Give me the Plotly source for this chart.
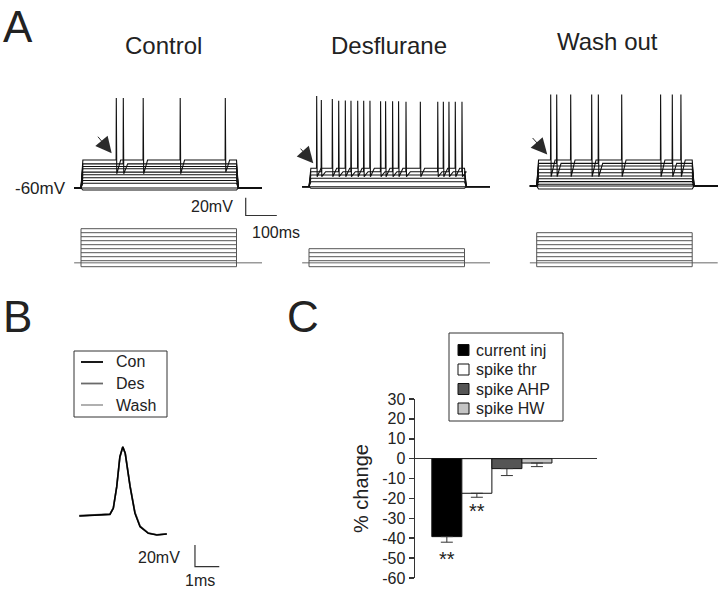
import plotly.graph_objects as go

# ---------------- DATA ----------------
CONDITIONS = ["Control", "Desflurane", "Wash out"]
V_REST = -60.0            # mV
T_START, T_END = -22.0, 582.0   # ms, sweep window
STEP_ON, STEP_OFF = 0.0, 500.0  # ms

# plateau membrane potential of each sweep (mV)
CTRL_LEVELS = [-62.3, -59.2, -54.7, -51.5, -48.5, -45.1, -42.1, -38.3, -35.7, -32.7, -28.4]
DES_LEVELS = [-61.8, -59.2, -54.4, -50.5, -46.8, -43.1, -39.2]
WASH_LEVELS = [-63.4, -60.8, -58.1, -55.1, -51.8, -48.7, -45.0, -41.1, -37.4, -34.4, -30.6]

# spike times (ms), the sweep (counted from the top) they belong to, peaks (mV), AHP troughs (mV)
CTRL_SPK_T = [113.5, 136.0, 200.0, 319.0, 464.0]
CTRL_SPK_SWEEP = [1, 2, 1, 1, 1]
CTRL_SPK_PEAK = [41.7, 41.7, 41.7, 41.7, 41.7]
CTRL_SPK_AHP = [-44.0, -44.0, -44.0, -44.0, -42.0]

DES_SPK_T = [24.7, 39.6, 75.0, 95.5, 116.8, 135.0, 156.6, 175.9, 196.0, 230.2,
             246.3, 268.8, 288.0, 311.9, 358.0, 414.0, 432.0, 450.0, 470.4, 491.9]
DES_SPK_SWEEP = [1, 2, 1, 2, 1, 2, 1, 2, 1, 2, 1, 2, 1, 2, 1, 2, 1, 2, 1, 2]
DES_SPK_PEAK = [42.4, 38.0, 39.0, 37.0, 37.5, 37.0, 37.0, 37.0, 37.0, 36.5,
                36.5, 36.5, 36.5, 36.0, 36.0, 36.0, 36.0, 36.0, 36.0, 36.0]
DES_SPK_AHP = [-48.7] * 20

WASH_SPK_T = [45.0, 64.3, 109.3, 176.8, 198.2, 273.3, 398.4, 436.0, 463.7]
WASH_SPK_SWEEP = [1, 2, 1, 1, 2, 1, 1, 2, 1]
WASH_SPK_PEAK = [43.4, 43.4, 43.4, 43.4, 43.4, 43.4, 43.4, 43.4, 43.4]
WASH_SPK_AHP = [-49.5] * 9

# injected current steps (pA)
CTRL_STEPS = [-20, 10, 30, 50, 70, 90, 110, 130, 150, 170]
DES_STEPS = [-20, 10, 30, 50, 70]
WASH_STEPS = [-20, 10, 30, 50, 70, 90, 110, 130, 150]

# scale bars
SCALE_A_MV, SCALE_A_MS = 20, 100
SCALE_B_MV, SCALE_B_MS = 20, 1

# panel B: single action potential (ms, mV)
SPIKE_T = [0.0, 1.26, 1.40, 1.54, 1.67, 1.79, 1.89, 2.09, 2.29, 2.50, 2.84, 3.19, 3.60]
SPIKE_CON = [-50.9, -49.4, -43.8, -23.9, 3.7, 12.9, 6.9, -23.9, -48.4, -60.8, -66.9, -68.4, -67.5]
SPIKE_DES = [-50.6, -49.2, -43.5, -24.2, 3.2, 12.6, 6.8, -23.2, -47.6, -60.2, -66.6, -68.2, -67.4]
SPIKE_WASH = [-50.8, -49.3, -43.7, -24.0, 3.4, 12.7, 6.9, -23.5, -48.0, -60.5, -66.7, -68.3, -67.4]
SPIKE_NAMES = ["Con", "Des", "Wash"]

# panel C: % change
C_CATS = ["current inj", "spike thr", "spike AHP", "spike HW"]
C_MEAN = [-39.2, -17.4, -5.0, -2.2]
C_SEM = [2.8, 2.0, 3.5, 1.8]
C_SIG = ["**", "**", "", ""]
C_TICKS = [30, 20, 10, 0, -10, -20, -30, -40, -50, -60]

# ---------------- LAYOUT HELPERS ----------------
W, H = 720, 593
FONT = "Liberation Sans, Arial, sans-serif"
TXT = "#222222"


def px(x):
    return x / W


def py(y):
    return 1 - y / H


def xdom(a, b):
    return [a / W, b / W]


def ydom(top, bot):
    return [1 - bot / H, 1 - top / H]


PX_PER_MS = 0.311
PX_PER_MV = 0.885
PX_PER_PA = 0.2

fig = go.Figure()
layout = dict(
    template="none",
    width=W, height=H, autosize=False, margin=dict(l=0, r=0, t=0, b=0, pad=0, autoexpand=False),
    paper_bgcolor="white", plot_bgcolor="rgba(0,0,0,0)",
    font=dict(family=FONT, color=TXT), showlegend=False,
)

A_GEOM = [((62, 292), 81.0, 188.0), ((292, 522), 309.0, 186.7), ((522, 720), 536.7, 186.0)]
TR_Y = (88, 222)
CUR_Y = (222, 275)
CUR_BASE_PX = 262.7


def hidden(**kw):
    d = dict(visible=False, showgrid=False, zeroline=False, fixedrange=True, automargin=False)
    d.update(kw)
    return d


for i, ((x0, x1), onset, base) in enumerate(A_GEOM):
    xr = [(x0 - onset) / PX_PER_MS, (x1 - onset) / PX_PER_MS]
    n = i + 1
    layout["xaxis" if n == 1 else f"xaxis{n}"] = hidden(domain=xdom(x0, x1), range=xr, anchor="y" if n == 1 else f"y{n}")
    layout["yaxis" if n == 1 else f"yaxis{n}"] = hidden(
        domain=ydom(*TR_Y), anchor="x" if n == 1 else f"x{n}",
        range=[V_REST - (TR_Y[1] - base) / PX_PER_MV, V_REST + (base - TR_Y[0]) / PX_PER_MV])
    m = i + 4
    layout[f"xaxis{m}"] = hidden(domain=xdom(x0, x1), range=xr, anchor=f"y{m}")
    layout[f"yaxis{m}"] = hidden(
        domain=ydom(*CUR_Y), anchor=f"x{m}",
        range=[-(CUR_Y[1] - CUR_BASE_PX) / PX_PER_PA, (CUR_BASE_PX - CUR_Y[0]) / PX_PER_PA])


def ax_names(n):
    return ("x" if n == 1 else f"x{n}", "y" if n == 1 else f"y{n}")


def sweeps_xy(levels, spk_t, spk_sw, spk_pk, spk_ahp):
    xs, ys = [], []
    nlev = len(levels)
    for k, lev in enumerate(levels):
        top_rank = nlev - k  # 1 = top sweep
        spikes = sorted([(t, p, a) for t, s, p, a in zip(spk_t, spk_sw, spk_pk, spk_ahp) if s == top_rank])
        t = [T_START, STEP_ON, STEP_ON + 6]
        v = [V_REST, V_REST, lev]
        for ts, pk, ah in spikes:
            t += [ts - 0.6, ts, ts + 1.5, ts + 14]
            v += [lev, pk, ah, lev]
        t += [STEP_OFF, STEP_OFF + 6, T_END]
        v += [lev, V_REST, V_REST]
        xs += t + [None]
        ys += v + [None]
    return xs, ys


A_DATA = [
    (CTRL_LEVELS, CTRL_SPK_T, CTRL_SPK_SWEEP, CTRL_SPK_PEAK, CTRL_SPK_AHP, CTRL_STEPS),
    (DES_LEVELS, DES_SPK_T, DES_SPK_SWEEP, DES_SPK_PEAK, DES_SPK_AHP, DES_STEPS),
    (WASH_LEVELS, WASH_SPK_T, WASH_SPK_SWEEP, WASH_SPK_PEAK, WASH_SPK_AHP, WASH_STEPS),
]

for i, (lev, st, ss, sp, sa, steps) in enumerate(A_DATA):
    xa, ya = ax_names(i + 1)
    xs, ys = sweeps_xy(lev, st, ss, sp, sa)
    fig.add_trace(go.Scatter(x=xs, y=ys, mode="lines", line=dict(color="#111111", width=1.1),
                             xaxis=xa, yaxis=ya, name=CONDITIONS[i], hoverinfo="skip"))
    m = i + 4
    fig.add_trace(go.Scatter(x=[T_START, T_END], y=[0, 0], mode="lines", line=dict(color="#9a9a9a", width=1.6),
                             xaxis=f"x{m}", yaxis=f"y{m}", hoverinfo="skip"))
    sx, sy = [], []
    for s in steps:
        sx += [STEP_ON, STEP_OFF, None]
        sy += [s, s, None]
    sx += [STEP_ON, STEP_ON, None, STEP_OFF, STEP_OFF]
    sy += [min(steps), max(steps), None, min(steps), max(steps)]
    fig.add_trace(go.Scatter(x=sx, y=sy, mode="lines", line=dict(color="#555555", width=1),
                             xaxis=f"x{m}", yaxis=f"y{m}", hoverinfo="skip"))

SB_T0, SB_V0 = 529.6, -91.1
fig.add_trace(go.Scatter(x=[SB_T0, SB_T0, SB_T0 + SCALE_A_MS], y=[SB_V0 + SCALE_A_MV, SB_V0, SB_V0],
                         mode="lines", line=dict(color="#333333", width=1.2), xaxis="x", yaxis="y",
                         hoverinfo="skip"))

annotations = []
shapes = []
annotations.append(dict(x=SB_T0, y=SB_V0 + SCALE_A_MV / 2, xref="x", yref="y", text=f"{SCALE_A_MV}mV",
                        showarrow=False, xanchor="right", yanchor="middle", xshift=-11,
                        font=dict(size=16, color=TXT)))
annotations.append(dict(x=SB_T0 + SCALE_A_MS, y=SB_V0, xref="x", yref="y", text=f"{SCALE_A_MS}ms",
                        showarrow=False, xanchor="center", yanchor="top", xshift=-1, yshift=-6,
                        font=dict(size=16, color=TXT)))
annotations.append(dict(x=T_START, y=V_REST, xref="x", yref="y", text="-60mV", showarrow=False,
                        xanchor="right", yanchor="middle", xshift=-6, font=dict(size=17, color=TXT)))

ARROWS = [(98.7, -20.7, -15, -18), (13.8, -33.4, -14, -16), (34.0, -24.4, -16, -18)]
for i, (t, v, ax, ay) in enumerate(ARROWS):
    xa, ya = ax_names(i + 1)
    annotations.append(dict(x=t, y=v, xref=xa, yref=ya, ax=ax, ay=ay, showarrow=True, text="",
                            arrowhead=2, arrowsize=3.2, arrowwidth=1.0, arrowcolor="#2a2a2a"))

TITLE_POS = [(163, 46), (389, 46), (607, 42)]
for name, (x, y) in zip(CONDITIONS, TITLE_POS):
    annotations.append(dict(x=px(x), y=py(y), xref="paper", yref="paper", text=name,
                            showarrow=False, xanchor="center", yanchor="middle",
                            font=dict(size=24, color=TXT)))

# panel letters (A anchored at the very top so its box stays inside the page)
annotations.append(dict(x=px(18), y=1.0, xref="paper", yref="paper", text="A", showarrow=False,
                        xanchor="center", yanchor="top", font=dict(size=44, color=TXT)))
for letter, (x, y) in zip(["B", "C"], [(17, 317), (303, 317)]):
    annotations.append(dict(x=px(x), y=py(y), xref="paper", yref="paper", text=letter,
                            showarrow=False, xanchor="center", yanchor="middle",
                            font=dict(size=44, color=TXT)))

# ---------------- PANEL B ----------------
B_X = (70, 232)
B_Y = (430, 575)
B_T0_PX, B_V_REF_PX, B_V_REF = 79.3, 515.0, -50.0
B_PX_MS, B_PX_MV = 24.3, 1.085
layout["xaxis7"] = hidden(domain=xdom(*B_X), anchor="y7",
                          range=[(B_X[0] - B_T0_PX) / B_PX_MS, (B_X[1] - B_T0_PX) / B_PX_MS])
layout["yaxis7"] = hidden(domain=ydom(*B_Y), anchor="x7",
                          range=[B_V_REF - (B_Y[1] - B_V_REF_PX) / B_PX_MV, B_V_REF + (B_V_REF_PX - B_Y[0]) / B_PX_MV])

B_COLORS = ["#000000", "#6a6a6a", "#a8a8a8"]
B_SERIES = [SPIKE_CON, SPIKE_DES, SPIKE_WASH]
for name, ys, col in reversed(list(zip(SPIKE_NAMES, B_SERIES, B_COLORS))):
    fig.add_trace(go.Scatter(x=SPIKE_T, y=ys, mode="lines", name=name,
                             line=dict(color=col, width=1.6), xaxis="x7", yaxis="y7", hoverinfo="skip"))

SBB_T0, SBB_V0 = 4.76, -97.6
fig.add_trace(go.Scatter(x=[SBB_T0, SBB_T0, SBB_T0 + SCALE_B_MS], y=[SBB_V0 + SCALE_B_MV, SBB_V0, SBB_V0],
                         mode="lines", line=dict(color="#333333", width=1.2), xaxis="x7", yaxis="y7",
                         hoverinfo="skip"))
annotations.append(dict(x=SBB_T0, y=SBB_V0 + SCALE_B_MV * 0.4, xref="x7", yref="y7", text=f"{SCALE_B_MV}mV",
                        showarrow=False, xanchor="right", yanchor="middle", xshift=-13,
                        font=dict(size=16, color=TXT)))
annotations.append(dict(x=SBB_T0 + SCALE_B_MS * 0.2, y=0.003, xref="x7", yref="paper", text=f"{SCALE_B_MS}ms",
                        showarrow=False, xanchor="center", yanchor="bottom",
                        font=dict(size=16, color=TXT)))

LEG_B_BOX = (74, 351, 167, 417)
LEG_B_ROWS = [362, 383.5, 405]
shapes.append(dict(type="rect", xref="paper", yref="paper", x0=px(LEG_B_BOX[0]), x1=px(LEG_B_BOX[2]),
                   y0=py(LEG_B_BOX[3]), y1=py(LEG_B_BOX[1]), line=dict(color="#333333", width=1),
                   fillcolor="white", layer="below"))
for name, col, yy in zip(SPIKE_NAMES, B_COLORS, LEG_B_ROWS):
    shapes.append(dict(type="line", xref="paper", yref="paper", x0=px(81), x1=px(103), y0=py(yy), y1=py(yy),
                       line=dict(color=col, width=1.8)))
    annotations.append(dict(x=px(114), y=py(yy), xref="paper", yref="paper", text=name, showarrow=False,
                            xanchor="left", yanchor="middle", font=dict(size=16, color=TXT)))

# ---------------- PANEL C ----------------
C_X = (415, 597)
C_Y = (399, 578)
layout["xaxis8"] = hidden(domain=xdom(*C_X), anchor="y8", range=[-1.06, 5.0])
layout["yaxis8"] = dict(domain=ydom(*C_Y), anchor="x8", range=[-60, 30], fixedrange=True, automargin=False,
                        tickmode="array", tickvals=C_TICKS, ticktext=[str(t) for t in C_TICKS],
                        ticks="outside", ticklen=5, tickwidth=1.5, tickcolor="#333333",
                        showline=True, linewidth=1.5, linecolor="#333333", showgrid=False,
                        zeroline=True, zerolinecolor="#333333", zerolinewidth=1.5,
                        tickfont=dict(size=16, color=TXT),
                        title=dict(text="% change", font=dict(size=20, color=TXT), standoff=8))

C_COLORS = ["#000000", "#ffffff", "#555555", "#c4c4c4"]
for k, (cat, mu, se, col) in enumerate(zip(C_CATS, C_MEAN, C_SEM, C_COLORS)):
    fig.add_trace(go.Bar(x=[k], y=[mu], width=1.0, name=cat, marker=dict(color=col, line=dict(color="#111111", width=1)),
                         error_y=dict(type="data", symmetric=False, array=[0], arrayminus=[se],
                                      color="#333333", thickness=1, width=6),
                         xaxis="x8", yaxis="y8", hoverinfo="skip"))
SIG_SHIFT = [-4, -1]
for k, (mu, se, sig) in enumerate(zip(C_MEAN, C_SEM, C_SIG)):
    if sig:
        annotations.append(dict(x=k, y=mu - se, xref="x8", yref="y8", text=sig, showarrow=False,
                                xanchor="center", yanchor="top", yshift=SIG_SHIFT[k],
                                font=dict(size=20, color=TXT)))

LEG_C_BOX = (449, 333, 563, 421)
LEG_C_ROWS = [350, 369.5, 389, 408.5]
shapes.append(dict(type="rect", xref="paper", yref="paper", x0=px(LEG_C_BOX[0]), x1=px(LEG_C_BOX[2]),
                   y0=py(LEG_C_BOX[3]), y1=py(LEG_C_BOX[1]), line=dict(color="#333333", width=1),
                   fillcolor="white", layer="below"))
for cat, col, yy in zip(C_CATS, C_COLORS, LEG_C_ROWS):
    shapes.append(dict(type="rect", xref="paper", yref="paper", x0=px(458), x1=px(469),
                       y0=py(yy + 5.5), y1=py(yy - 5.5), line=dict(color="#111111", width=1), fillcolor=col))
    annotations.append(dict(x=px(474), y=py(yy), xref="paper", yref="paper", text=cat, showarrow=False,
                            xanchor="left", yanchor="middle", font=dict(size=16, color=TXT)))

layout["barmode"] = "overlay"
layout["annotations"] = annotations
layout["shapes"] = shapes
fig.update_layout(**layout)

fig.write_html("out.html", config={"displayModeBar": False, "staticPlot": True},
               post_script="document.body.style.margin='0px';")
